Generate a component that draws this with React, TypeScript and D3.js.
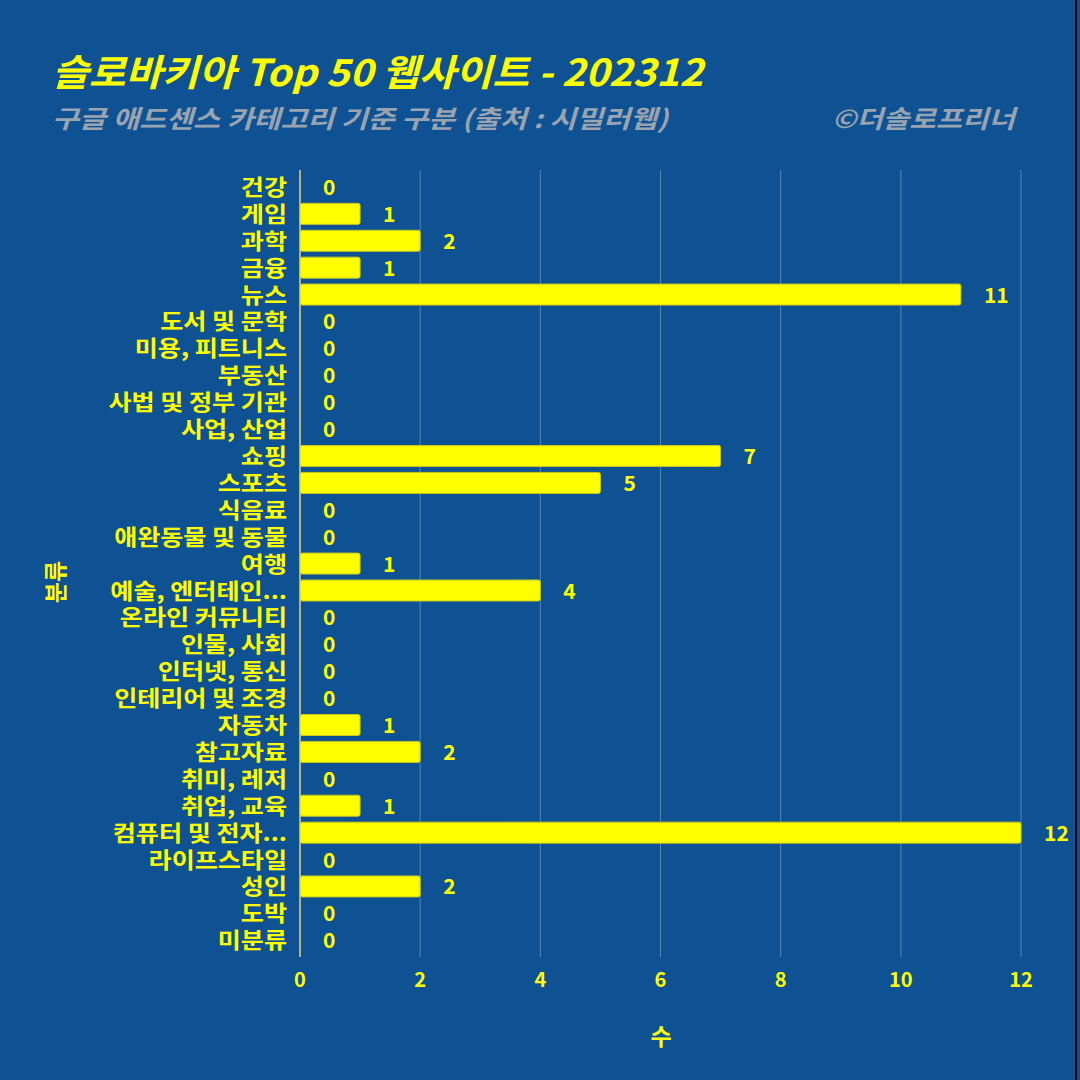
import React from "react";
import * as d3 from "d3";

const categories = [
  "건강", "게임", "과학", "금융", "뉴스", "도서 및 문학", "미용, 피트니스", "부동산",
  "사법 및 정부 기관", "사업, 산업", "쇼핑", "스포츠", "식음료", "애완동물 및 동물", "여행",
  "예술, 엔터테인...", "온라인 커뮤니티", "인물, 사회", "인터넷, 통신", "인테리어 및 조경",
  "자동차", "참고자료", "취미, 레저", "취업, 교육", "컴퓨터 및 전자...", "라이프스타일",
  "성인", "도박", "미분류",
];
const counts = [0, 1, 2, 1, 11, 0, 0, 0, 0, 0, 7, 5, 0, 0, 1, 4, 0, 0, 0, 0, 1, 2, 0, 1, 12, 0, 2, 0, 0];
const xTicks = [0, 2, 4, 6, 8, 10, 12];

const title = "슬로바키아 Top 50 웹사이트 - 202312";
const subtitle = "구글 애드센스 카테고리 기준 구분 (출처 : 시밀러웹)";
const credit = "©더솔로프리너";
const xTitle = "수";
const yTitle = "분류";

const BG = "#0e5293";
const YEL = "#ffff00";
const FONT = "'Noto Sans CJK KR', 'Noto Sans', sans-serif";

export default function App() {
  const W = 1080, H = 1080;
  const x = d3.scaleLinear().domain([0, 12]).range([300, 1021]);
  const y = d3.scaleBand<string>().domain(categories).range([173.5, 953.7]).paddingInner(0.22).paddingOuter(0.11);
  return (
    <svg width={W} height={H} style={{ position: "absolute", left: 0, top: 0, display: "block" }}>
      <rect x={0} y={0} width={W} height={H} fill={BG} />
      <rect x={1075} y={0} width={2} height={H} fill="#000" />
      <text x={52} y={86} fill={YEL} fontFamily={FONT} fontWeight={700} fontStyle="italic" fontSize={37} textLength={651} lengthAdjust="spacingAndGlyphs">{title}</text>
      <text x={52} y={128} fill="#9aa3b0" fontFamily={FONT} fontWeight={700} fontStyle="italic" fontSize={25} textLength={616} lengthAdjust="spacingAndGlyphs">{subtitle}</text>
      <text x={1015} y={128} textAnchor="end" fill="#9aa3b0" fontFamily={FONT} fontWeight={700} fontStyle="italic" fontSize={25} textLength={183} lengthAdjust="spacingAndGlyphs">{credit}</text>
      {xTicks.map((t) => (
        <line key={"g" + t} x1={x(t)} x2={x(t)} y1={170} y2={957} stroke="#7b99bf" strokeOpacity={0.7} strokeWidth={1} />
      ))}
      {xTicks.map((t) => (
        <text key={"t" + t} x={x(t)} y={987} textAnchor="middle" fill={YEL} fontFamily={FONT} fontWeight={700} fontSize={20}>{t}</text>
      ))}
      <line x1={x(0)} x2={x(0)} y1={170} y2={957} stroke="#b0b080" strokeWidth={2} />
      {categories.map((c, i) => {
        const yy = y(c)!;
        const bw = y.bandwidth();
        const v = counts[i];
        return (
          <g key={c}>
            {v > 0 && (
              <rect x={x(0)} y={yy} width={x(v) - x(0)} height={bw} fill={YEL} stroke="#c8c820" strokeWidth={1} rx={2} />
            )}
            <text x={x(v) + 23} y={yy + bw / 2 + 8} fill={YEL} fontFamily={FONT} fontWeight={700} fontSize={21}>{v}</text>
            <g transform={`translate(287,${yy + bw / 2 + 8}) scale(1.14,1)`}>
              <text x={0} y={0} textAnchor="end" fill={YEL} fontFamily={FONT} fontWeight={700} fontSize={22}>{c}</text>
            </g>
          </g>
        );
      })}
      <text x={661} y={1045} textAnchor="middle" fill={YEL} fontFamily={FONT} fontWeight={700} fontSize={23}>{xTitle}</text>
      <text transform="translate(64,582) rotate(-90)" textAnchor="middle" fill={YEL} fontFamily={FONT} fontWeight={700} fontSize={23}>{yTitle}</text>
    </svg>
  );
}
